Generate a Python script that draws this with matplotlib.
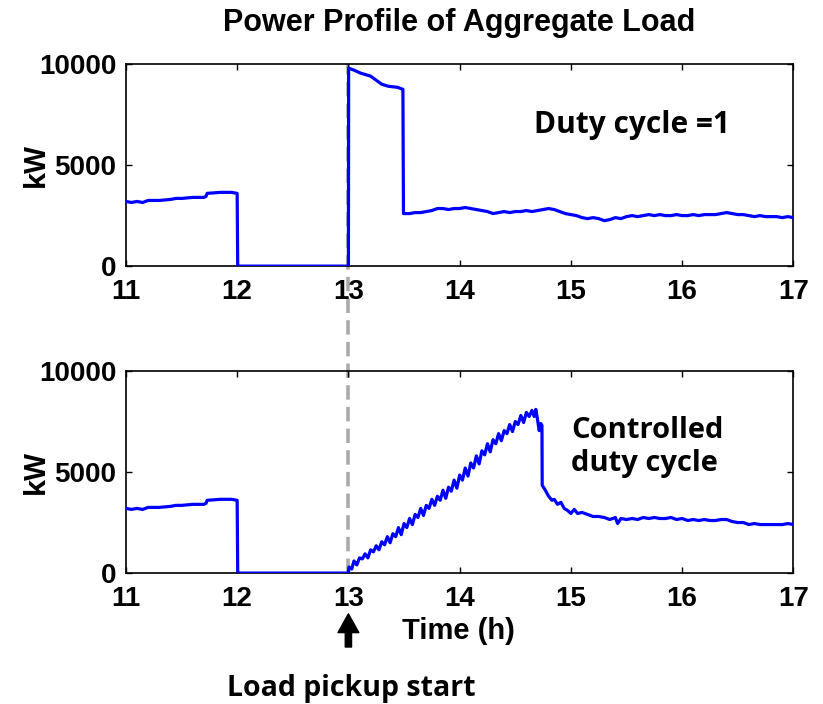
import matplotlib
matplotlib.use("Agg")
import matplotlib.pyplot as plt
from matplotlib.lines import Line2D

# time axis (h) and load (kW)
t_pre = [11.0, 11.05, 11.1, 11.15, 11.2, 11.3, 11.4, 11.45, 11.5, 11.6, 11.7, 11.72,
         11.73, 11.85, 11.95, 12.0, 12.005, 13.0]
p_pre = [3200, 3150, 3200, 3150, 3250, 3250, 3300, 3350, 3350, 3400, 3400, 3450,
         3600, 3650, 3650, 3600, 0, 0]

# duty cycle = 1
t_top = [13.002, 13.05, 13.11, 13.2, 13.25, 13.3, 13.36, 13.44, 13.49, 13.495,
         13.55, 13.6, 13.65, 13.7, 13.75, 13.8, 13.85, 13.9, 13.95, 14.0,
         14.05, 14.1, 14.15, 14.2, 14.25, 14.3, 14.35, 14.4, 14.45, 14.5,
         14.55, 14.6, 14.65, 14.7, 14.75, 14.8, 14.85, 14.9, 14.95, 15.0,
         15.05, 15.1, 15.15, 15.2, 15.25, 15.3, 15.35, 15.4, 15.45, 15.5,
         15.55, 15.6, 15.65, 15.7, 15.75, 15.8, 15.85, 15.9, 15.95, 16.0,
         16.05, 16.1, 16.15, 16.2, 16.25, 16.3, 16.35, 16.4, 16.45, 16.5,
         16.55, 16.6, 16.65, 16.7, 16.75, 16.8, 16.85, 16.9, 16.95, 17.0]
p_top = [9800, 9700, 9550, 9400, 9200, 9000, 8900, 8850, 8750, 2600,
         2600, 2650, 2650, 2700, 2750, 2850, 2850, 2800, 2850, 2850,
         2900, 2850, 2800, 2750, 2700, 2600, 2650, 2700, 2650, 2700,
         2700, 2750, 2700, 2750, 2800, 2850, 2800, 2700, 2600, 2550,
         2500, 2400, 2350, 2400, 2350, 2250, 2300, 2400, 2350, 2450,
         2500, 2450, 2500, 2550, 2500, 2550, 2500, 2500, 2550, 2500,
         2500, 2550, 2500, 2550, 2550, 2550, 2600, 2650, 2600, 2550,
         2550, 2500, 2450, 2500, 2450, 2450, 2450, 2400, 2450, 2400]

# controlled duty cycle
t_bot = [13.005, 13.03, 13.05, 13.075, 13.1, 13.125, 13.15, 13.175, 13.2, 13.225,
         13.25, 13.275, 13.3, 13.325, 13.35, 13.375, 13.4, 13.425, 13.45, 13.475,
         13.5, 13.525, 13.55, 13.575, 13.6, 13.625, 13.65, 13.675, 13.7, 13.725,
         13.75, 13.775, 13.8, 13.825, 13.85, 13.875, 13.9, 13.925, 13.95, 13.975,
         14.0, 14.025, 14.05, 14.075, 14.1, 14.125, 14.15, 14.175, 14.2, 14.225,
         14.25, 14.275, 14.3, 14.325, 14.35, 14.375, 14.4, 14.425, 14.45, 14.475,
         14.5, 14.525, 14.55, 14.575, 14.6, 14.625, 14.65, 14.67, 14.685, 14.7,
         14.715, 14.73, 14.74, 14.742, 14.77, 14.8, 14.83, 14.85, 14.88, 14.91,
         14.94, 14.97, 15.0, 15.03, 15.06, 15.1, 15.15, 15.2, 15.25, 15.3,
         15.35, 15.4, 15.42, 15.45, 15.5, 15.55, 15.6, 15.65, 15.7, 15.75,
         15.8, 15.85, 15.9, 15.95, 16.0, 16.05, 16.1, 16.15, 16.2, 16.25,
         16.3, 16.35, 16.4, 16.45, 16.5, 16.55, 16.6, 16.65, 16.7, 16.8,
         16.9, 16.95, 17.0]
p_bot = [300, 200, 600, 400, 750, 700, 950, 750, 1150, 1050,
         1350, 1150, 1550, 1400, 1800, 1500, 1950, 1800, 2250, 1900,
         2450, 2250, 2700, 2400, 2900, 2750, 3200, 2850, 3350, 3200,
         3650, 3350, 3800, 3600, 4100, 3700, 4250, 4050, 4600, 4200,
         4850, 4600, 5200, 4800, 5450, 5200, 5800, 5400, 6050, 5850,
         6400, 6000, 6600, 6400, 6900, 6550, 7050, 6900, 7350, 7000,
         7500, 7350, 7800, 7450, 7950, 7750, 8050, 7750, 8100, 7600,
         7050, 7400, 7300, 4350, 4100, 3800, 3600, 3650, 3400, 3500,
         3200, 3100, 2950, 3150, 2950, 3000, 2900, 2800, 2800, 2750,
         2650, 2750, 2450, 2700, 2650, 2700, 2650, 2750, 2700, 2750,
         2700, 2700, 2750, 2650, 2700, 2600, 2650, 2600, 2650, 2600,
         2600, 2650, 2650, 2550, 2500, 2500, 2400, 2450, 2400, 2400,
         2400, 2450, 2400]

x_ticks = [11, 12, 13, 14, 15, 16, 17]
y_ticks = [0, 5000, 10000]
pickup_time = 13

arial = ["Liberation Sans", "DejaVu Sans"]
calib = ["Open Sans", "DejaVu Sans"]

fig = plt.figure(figsize=(8.23, 7.04), dpi=100)
ax1 = fig.add_axes([0.153, 0.622, 0.811, 0.287])
ax2 = fig.add_axes([0.153, 0.186, 0.811, 0.287])

for ax, t_after, p_after in [(ax1, t_top, p_top), (ax2, t_bot, p_bot)]:
    ax.set_facecolor("none")
    ax.plot(t_pre + t_after, p_pre + p_after, color="#0000ff", lw=2.3, zorder=3)
    ax.set_xlim(11, 17)
    ax.set_ylim(0, 10000)
    ax.set_xticks(x_ticks)
    ax.set_yticks(y_ticks)
    ax.tick_params(direction="in", length=4, width=1, top=True, right=True,
                   labelsize=20, pad=7)
    ax.tick_params(axis="x", pad=9)
    for lbl in ax.get_xticklabels() + ax.get_yticklabels():
        lbl.set_fontweight("bold")
        lbl.set_family(arial)
    for s in ax.spines.values():
        s.set_linewidth(1.2)
    ax.set_ylabel("kW", fontsize=20, fontweight="bold", family=calib)
    ax.yaxis.set_label_coords(-0.113, 0.5)

# dashed marker at load pickup, running through both panels
x_fig = 0.153 + 0.811 * (pickup_time - 11) / 6
fig.add_artist(Line2D([x_fig, x_fig], [0.186, 0.909], color="#aaaaaa", lw=2.6,
                      ls=(0, (4, 2)), zorder=-1))

ax1.text(14.67, 7000, "Duty cycle =1", fontsize=21.5, fontweight="bold",
         family=calib, va="center")
ax2.text(15.0, 6250, "Controlled\nduty cycle", fontsize=21, fontweight="bold",
         family=calib, va="center", linespacing=1.2)

fig.text(0.558, 0.968, "Power Profile of Aggregate Load", fontsize=22,
         fontweight="bold", family=arial, ha="center", va="center")
fig.text(0.5565, 0.104, "Time (h)", fontsize=21, fontweight="bold",
         family=arial, ha="center", va="center")
fig.text(0.4265, 0.022, "Load pickup start", fontsize=20.5, fontweight="bold",
         family=calib, ha="center", va="center")

fig.add_artist(matplotlib.patches.FancyArrowPatch(
    (x_fig, 0.077), (x_fig, 0.132), transform=fig.transFigure,
    arrowstyle="simple,head_width=1.0,tail_width=0.3,head_length=0.9",
    mutation_scale=15, color="black"))

fig.savefig("out.png", dpi=100)
